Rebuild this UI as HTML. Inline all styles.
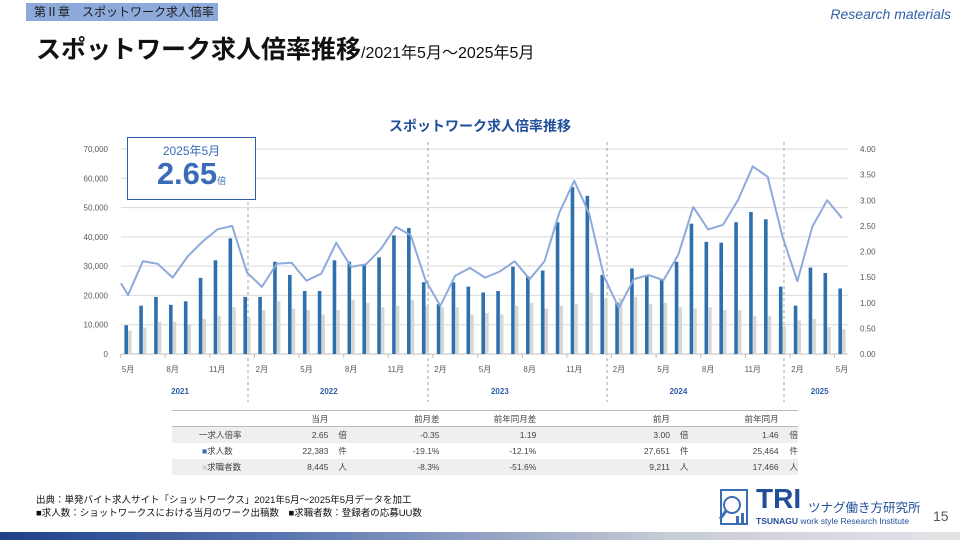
<!DOCTYPE html>
<html><head><meta charset="utf-8">
<style>
*{margin:0;padding:0;box-sizing:border-box}
body{width:960px;height:540px;overflow:hidden;background:#fff;font-family:"Liberation Sans","Noto Sans CJK JP",sans-serif;position:relative;color:#222}
.abs{position:absolute;white-space:nowrap}
</style></head><body>
<div class="abs" style="left:26px;top:3px;width:192px;height:18px;background:#8eaadb;font-size:12px;line-height:18px;padding-left:8px;color:#1a1a1a">第Ⅱ章　スポットワーク求人倍率</div>
<div class="abs" style="right:9px;top:6px;font-size:14px;font-style:italic;color:#2e5fa8">Research materials</div>
<div class="abs" style="left:36px;top:30px;font-size:25px;font-weight:bold;color:#111">スポットワーク求人倍率推移<span style="font-size:16px;font-weight:normal">/2021年5月～2025年5月</span></div>
<div class="abs" style="left:0;width:960px;text-align:center;top:116px;font-size:14px;font-weight:bold;color:#1f4e9a">スポットワーク求人倍率推移</div>

<svg class="abs" style="left:0;top:0" width="960" height="410" id="chart"></svg>

<div class="abs" style="left:127px;top:137px;width:129px;height:63px;border:1.5px solid #2e5fa8;background:#fff;text-align:center;color:#3a6cb8">
 <div style="font-size:12px;margin-top:4px">2025年5月</div>
 <div style="font-size:31px;font-weight:bold;line-height:30px">2.65<span style="font-size:9px;font-weight:normal">倍</span></div>
</div>

<table class="abs" style="left:172px;top:410px;width:626px;border-collapse:collapse;font-size:8.5px;color:#444">
<colgroup><col style="width:95px"><col style="width:65px"><col style="width:45px"><col style="width:70px"><col style="width:100px"><col style="width:140px"><col style="width:40px"><col style="width:72px"><col style="width:20px"></colgroup>
<tr style="height:16px;border-top:1px solid #bbb;border-bottom:1px solid #bbb"><td></td><td style="text-align:right">当月</td><td></td><td style="text-align:right">前月差</td><td style="text-align:right">前年同月差</td><td style="text-align:right">前月</td><td></td><td style="text-align:right">前年同月</td><td></td></tr>
<tr style="height:16px;background:#efefef"><td style="padding-left:27px">一求人倍率</td><td style="text-align:right">2.65</td><td style="padding-left:10px">倍</td><td style="text-align:right">-0.35</td><td style="text-align:right">1.19</td><td style="text-align:right">3.00</td><td style="padding-left:10px">倍</td><td style="text-align:right">1.46</td><td style="text-align:right">倍</td></tr>
<tr style="height:16px"><td style="padding-left:30px"><span style="color:#2e6fae">■</span>求人数</td><td style="text-align:right">22,383</td><td style="padding-left:10px">件</td><td style="text-align:right">-19.1%</td><td style="text-align:right">-12.1%</td><td style="text-align:right">27,651</td><td style="padding-left:10px">件</td><td style="text-align:right">25,464</td><td style="text-align:right">件</td></tr>
<tr style="height:16px;background:#efefef"><td style="padding-left:30px"><span style="color:#d0d0d0">■</span>求職者数</td><td style="text-align:right">8,445</td><td style="padding-left:10px">人</td><td style="text-align:right">-8.3%</td><td style="text-align:right">-51.6%</td><td style="text-align:right">9,211</td><td style="padding-left:10px">人</td><td style="text-align:right">17,466</td><td style="text-align:right">人</td></tr>
</table>

<div class="abs" style="left:36px;top:494px;font-size:9.5px;line-height:13px;color:#111">出典：単発バイト求人サイト「ショットワークス」2021年5月～2025年5月データを加工<br>■求人数：ショットワークスにおける当月のワーク出稿数　■求職者数：登録者の応募UU数</div>

<div class="abs" style="left:718px;top:487px;width:210px;height:42px">
 <svg width="34" height="40" style="position:absolute;left:0;top:1px"><rect x="3" y="2" width="26" height="34" fill="#fff" stroke="#3a6cb8" stroke-width="2"/><circle cx="14" cy="17" r="8" fill="none" stroke="#3a6cb8" stroke-width="2"/><line x1="8" y1="23" x2="2" y2="31" stroke="#3a6cb8" stroke-width="3"/><rect x="18" y="28" width="3" height="7" fill="#3a6cb8"/><rect x="23" y="25" width="3" height="10" fill="#3a6cb8"/></svg>
 <div class="abs" style="left:38px;top:-4px;font-size:28px;font-weight:bold;color:#1f4e9a">TRI</div>
 <div class="abs" style="left:90px;top:10px;font-size:12.5px;color:#1f4e9a">ツナグ働き方研究所</div>
 <div class="abs" style="left:38px;top:29px;font-size:8.5px;color:#1f4e9a"><b>TSUNAGU</b> work style Research Institute</div>
</div>
<div class="abs" style="left:933px;top:508px;font-size:14px;color:#555">15</div>
<div class="abs" style="left:0;top:532px;width:960px;height:8px;background:linear-gradient(90deg,#1f3f8a 0%,#5a76b0 30%,#c8ccd6 70%,#e4e4e8 100%)"></div>

<script>
const months = ["5月","6月","7月","8月","9月","10月","11月","12月","1月","2月","3月","4月","5月","6月","7月","8月","9月","10月","11月","12月","1月","2月","3月","4月","5月","6月","7月","8月","9月","10月","11月","12月","1月","2月","3月","4月","5月","6月","7月","8月","9月","10月","11月","12月","1月","2月","3月","4月","5月"];
const jobs = [9800,16500,19500,16800,18000,26000,32000,39500,19500,19500,31500,27000,21500,21500,32000,31500,30500,33000,40500,43000,24500,17000,24500,23000,21000,21500,29800,26500,28500,45000,57000,54000,27000,17500,29200,27000,25500,31500,44500,38300,38000,45000,48500,46000,23000,16500,29500,27651,22383];
const seekers = [8000,9000,11000,11000,10000,12000,13000,16000,12500,15000,18000,15500,15000,13500,15000,18500,17500,16000,16500,18500,16500,16000,16000,13500,14000,13500,16500,17500,15500,16500,17000,21000,19000,19000,19500,17000,17500,16000,15500,16000,15000,15000,13000,13000,9500,11500,12000,9211,8445];
// first value is April 2021 (partially visible at axis edge)
const ratio = [1.38,1.15,1.81,1.76,1.49,1.90,2.19,2.43,2.50,1.59,1.31,1.76,1.78,1.43,1.57,2.17,1.70,1.75,2.05,2.48,2.32,1.44,0.94,1.53,1.68,1.49,1.61,1.81,1.46,1.81,2.76,3.38,2.74,1.51,0.90,1.46,1.54,1.44,1.94,2.87,2.43,2.52,3.00,3.66,3.46,2.29,1.42,2.48,3.00,2.65];
const leftTicks = [0,10000,20000,30000,40000,50000,60000,70000];
const rightTicks = [0,0.5,1,1.5,2,2.5,3,3.5,4];
const years = ["2021","2022","2023","2024","2025"];
const yearMid = [3.5,13.5,25,37,46.5];

const svg = document.getElementById('chart');
const NS = 'http://www.w3.org/2000/svg';
const X0=121,X1=848,Y0=354,Y1=149;
const x = i => 128 + i*14.875;
const yL = v => Y0 - v/70000*(Y0-Y1);
const yR = v => Y0 - v/4*(Y0-Y1);
function mk(t,a){const e=document.createElementNS(NS,t);for(const k in a)e.setAttribute(k,a[k]);svg.appendChild(e);return e;}

leftTicks.forEach(v=>{
  const g=mk('line',{x1:X0,x2:X1,y1:yL(v),y2:yL(v),stroke:v?'#d9d9d9':'#bfbfbf','stroke-width':1});
  
  
  const t=mk('text',{x:108,y:yL(v)+3,'text-anchor':'end','font-size':8,fill:'#595959'});
  t.textContent=v.toLocaleString('en-US');
  
  
});
rightTicks.forEach(v=>{
  const t=mk('text',{x:860,y:yR(v)+3,'font-size':8,fill:'#595959'});
  t.textContent=v.toFixed(2);
  
  
});
[248,428,607,784].forEach(px=>{
  const d=mk('line',{x1:px,x2:px,y1:142,y2:402,stroke:'#8c8c8c','stroke-dasharray':'3,3','stroke-width':0.8});
  
  
});
jobs.forEach((v,i)=>{
  const r=mk('rect',{x:x(i)-3.6,y:yL(v),width:3.6,height:Y0-yL(v),fill:'#2e6fae'});
  
  
});
seekers.forEach((v,i)=>{
  const r=mk('rect',{x:x(i),y:yL(v),width:3.6,height:Y0-yL(v),fill:'#d6d6d6'});
  
  
});
const pts=ratio.map((v,j)=>j===0?[X0,yR(v)]:[x(j-1),yR(v)]);
const pl=mk('polyline',{points:pts.map(p=>p.join(',')).join(' '),fill:'none',stroke:'#8eaadb','stroke-width':2,'stroke-linejoin':'round'});


for(let i=0;i<months.length;i+=3){
  const tk=mk('line',{x1:x(i)-7.4,x2:x(i)-7.4,y1:Y0,y2:Y0+4,stroke:'#bfbfbf'});
  
  
  const t=mk('text',{x:x(i),y:372,'text-anchor':'middle','font-size':8,fill:'#595959'});
  t.textContent=months[i];
  
  
}
years.forEach((y,k)=>{
  const t=mk('text',{x:x(yearMid[k]),y:394,'text-anchor':'middle','font-size':8,'font-weight':'bold',fill:'#2e5fa8'});
  t.textContent=y;
  
  
});
</script>
</body></html>
